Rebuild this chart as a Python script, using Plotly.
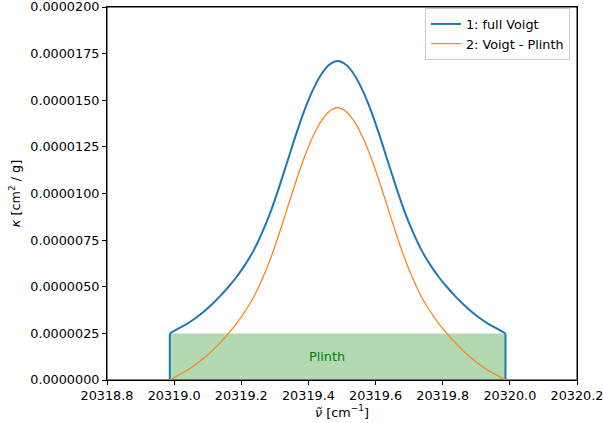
import plotly.graph_objects as go

# ---- data ----
x_min, x_max = 20318.8, 20320.2
edge_left, edge_right = 20318.987, 20319.987
plinth_height = 2.5e-6

x_grid = [20318.987, 20319.012, 20319.037, 20319.062, 20319.087, 20319.112, 20319.137,
          20319.162, 20319.187, 20319.212, 20319.237, 20319.262, 20319.287, 20319.312,
          20319.337, 20319.362, 20319.387, 20319.412, 20319.437, 20319.462, 20319.487,
          20319.512, 20319.537, 20319.562, 20319.587, 20319.612, 20319.637, 20319.662,
          20319.687, 20319.712, 20319.737, 20319.762, 20319.787, 20319.812, 20319.837,
          20319.862, 20319.887, 20319.912, 20319.937, 20319.962, 20319.987]

full_voigt = [2.50e-6, 2.75e-6, 3.00e-6, 3.30e-6, 3.65e-6, 4.05e-6, 4.50e-6, 5.00e-6,
              5.55e-6, 6.20e-6, 6.95e-6, 7.90e-6, 9.00e-6, 10.30e-6, 11.70e-6, 13.10e-6,
              14.40e-6, 15.50e-6, 16.35e-6, 16.90e-6, 17.10e-6, 16.90e-6, 16.35e-6,
              15.50e-6, 14.40e-6, 13.10e-6, 11.70e-6, 10.30e-6, 9.00e-6, 7.90e-6,
              6.95e-6, 6.20e-6, 5.55e-6, 5.00e-6, 4.50e-6, 4.05e-6, 3.65e-6, 3.30e-6,
              3.00e-6, 2.75e-6, 2.50e-6]

voigt_minus_plinth = [0.00e-6, 0.25e-6, 0.50e-6, 0.80e-6, 1.15e-6, 1.55e-6, 2.00e-6, 2.50e-6,
                      3.05e-6, 3.70e-6, 4.45e-6, 5.40e-6, 6.50e-6, 7.80e-6, 9.20e-6, 10.60e-6,
                      11.90e-6, 13.00e-6, 13.85e-6, 14.40e-6, 14.60e-6, 14.40e-6, 13.85e-6,
                      13.00e-6, 11.90e-6, 10.60e-6, 9.20e-6, 7.80e-6, 6.50e-6, 5.40e-6,
                      4.45e-6, 3.70e-6, 3.05e-6, 2.50e-6, 2.00e-6, 1.55e-6, 1.15e-6, 0.80e-6,
                      0.50e-6, 0.25e-6, 0.00e-6]

x_ticks = [20318.8, 20319.0, 20319.2, 20319.4, 20319.6, 20319.8, 20320.0, 20320.2]
y_ticks = [0, 2.5e-6, 5e-6, 7.5e-6, 1e-5, 1.25e-5, 1.5e-5, 1.75e-5, 2e-5]

# ---- figure ----
FONT = "DejaVu Sans"
FS = 12.8
BLUE, ORANGE = "#1f77b4", "#ff7f0e"

fig = go.Figure()
# plinth
fig.add_trace(go.Scatter(
    x=[edge_left, edge_right], y=[plinth_height, plinth_height],
    mode="lines", line=dict(width=0), fill="tozeroy",
    fillcolor="rgba(0,128,0,0.3)", showlegend=False, hoverinfo="skip"))

# outer (zero + vertical edge) segments, straight lines
fig.add_trace(go.Scatter(
    x=[x_min, edge_left, edge_left, None, edge_right, edge_right, x_max],
    y=[0, 0, full_voigt[0], None, full_voigt[-1], 0, 0],
    mode="lines", line=dict(color=BLUE, width=2), legendgroup="b",
    showlegend=False, hoverinfo="skip"))
# smooth profile
fig.add_trace(go.Scatter(x=x_grid, y=full_voigt, mode="lines", name="1: full Voigt",
                         legendgroup="b",
                         line=dict(color=BLUE, width=2, shape="spline", smoothing=0.8)))

fig.add_trace(go.Scatter(
    x=[x_min, edge_left, None, edge_right, x_max], y=[0, 0, None, 0, 0],
    mode="lines", line=dict(color=ORANGE, width=1.2), legendgroup="o",
    showlegend=False, hoverinfo="skip"))
fig.add_trace(go.Scatter(x=x_grid, y=voigt_minus_plinth, mode="lines",
                         name="2: Voigt - Plinth", legendgroup="o",
                         line=dict(color=ORANGE, width=1.2, shape="spline", smoothing=0.8)))

fig.add_annotation(x=20319.454, y=plinth_height / 2, text="Plinth", showarrow=False,
                   font=dict(family=FONT, size=FS, color="#008000"))

# frame around the plot area
fig.add_shape(type="rect", xref="paper", yref="paper", x0=0, x1=1, y0=0, y1=1,
              line=dict(color="black", width=1), fillcolor="rgba(0,0,0,0)", layer="below")

axis_common = dict(showline=True, linecolor="black", linewidth=1, mirror=True,
                   ticks="outside", ticklen=4, tickcolor="black", tickwidth=1,
                   showgrid=False, zeroline=False, ticklabeloverflow="allow",
                   tickfont=dict(family=FONT, size=FS, color="black"))

fig.update_xaxes(range=[x_min, x_max], tickvals=x_ticks, tickformat=".1f",
                 title=dict(text="<i>ν̃</i> [cm<sup>−1</sup>]", standoff=3,
                            font=dict(family=FONT, size=FS, color="black")),
                 **axis_common)
fig.update_yaxes(range=[0, 2e-5], tickvals=y_ticks, tickformat=".7f",
                 title=dict(text="<i>κ</i> [cm<sup>2</sup> / g]", standoff=6,
                            font=dict(family=FONT, size=FS, color="black")),
                 **axis_common)

fig.update_layout(
    width=603, height=423,
    margin=dict(l=107, r=26, t=7, b=43, autoexpand=False),
    plot_bgcolor="white", paper_bgcolor="white",
    font=dict(family=FONT, size=FS, color="black"),
    legend=dict(x=0.985, y=0.997, xanchor="right", yanchor="top",
                bgcolor="white", bordercolor="#cccccc", borderwidth=1,
                font=dict(family=FONT, size=FS, color="black"),
                tracegroupgap=0),
)

fig.write_html("out.html", config={"displayModeBar": False},
               post_script="document.body.style.margin='0';")
